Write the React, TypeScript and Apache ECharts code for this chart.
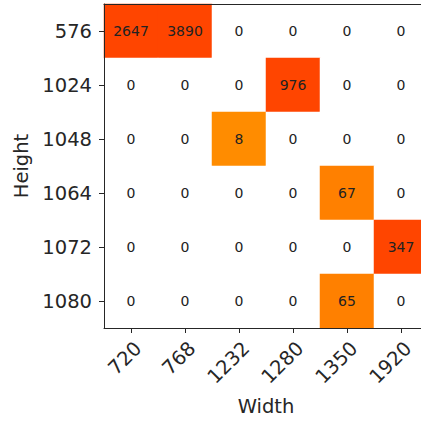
import React, { useEffect, useRef } from "react";
import * as echarts from "echarts";

const widths = ["720", "768", "1232", "1280", "1350", "1920"];
const heights = ["576", "1024", "1048", "1064", "1072", "1080"];
const row576 = [2647, 3890, 0, 0, 0, 0];
const row1024 = [0, 0, 0, 976, 0, 0];
const row1048 = [0, 0, 8, 0, 0, 0];
const row1064 = [0, 0, 0, 0, 67, 0];
const row1072 = [0, 0, 0, 0, 0, 347];
const row1080 = [0, 0, 0, 0, 65, 0];
const rows = [row576, row1024, row1048, row1064, row1072, row1080];

export default function App() {
  const ref = useRef<HTMLDivElement>(null);
  useEffect(() => {
    if (!ref.current) return;
    const chart = echarts.init(ref.current, undefined, { renderer: "svg" });
    const data: number[][] = [];
    rows.forEach((r, yi) => r.forEach((v, xi) => data.push([xi, yi, v])));
    const font = "DejaVu Sans";
    const txt = "#262626";
    chart.setOption({
      animation: false,
      backgroundColor: "#ffffff",
      grid: { left: 104, top: 4, width: 324, height: 324, containLabel: false },
      visualMap: {
        show: false,
        type: "piecewise",
        dimension: 2,
        pieces: [
          { lte: 0, color: "#ffffff" },
          { gt: 0, lt: 50, color: "#ff8c00" },
          { gte: 50, lt: 200, color: "#ff8000" },
          { gte: 200, color: "#ff4500" },
        ],
      },
      xAxis: [
        {
          type: "category",
          data: widths,
          z: 10,
          name: "Width",
          nameLocation: "middle",
          nameGap: 68,
          nameTextStyle: { fontFamily: font, fontSize: 19.5, color: txt },
          axisLine: { show: true, lineStyle: { color: txt, width: 1 } },
          axisTick: { show: true, alignWithLabel: true, length: 5, lineStyle: { color: txt } },
          axisLabel: {
            rotate: 45,
            align: "right",
            verticalAlign: "top",
            margin: 10,
            fontFamily: font,
            fontSize: 19.5,
            color: txt,
          },
          splitLine: { show: false },
        },
        {
          type: "category",
          data: widths,
          position: "top",
          z: 10,
          axisLine: { show: true, lineStyle: { color: txt, width: 1 } },
          axisTick: { show: false },
          axisLabel: { show: false },
        },
      ],
      yAxis: {
        type: "category",
        data: heights,
        inverse: true,
        z: 10,
        name: "Height",
        nameLocation: "middle",
        nameGap: 64,
        nameTextStyle: { fontFamily: font, fontSize: 19.5, color: txt },
        axisLine: { show: true, lineStyle: { color: txt, width: 1 } },
        axisTick: { show: true, alignWithLabel: true, length: 5, lineStyle: { color: txt } },
        axisLabel: { margin: 12, fontFamily: font, fontSize: 19.5, color: txt },
        splitLine: { show: false },
      },
      series: [
        {
          type: "heatmap",
          data,
          label: {
            show: true,
            fontFamily: font,
            fontSize: 14,
            color: "#222222",
          },
          itemStyle: { borderWidth: 0 },
          emphasis: { disabled: true },
        },
      ],
    });
    return () => chart.dispose();
  }, []);
  return (
    <div
      ref={ref}
      style={{ position: "fixed", left: 0, top: 0, width: 440, height: 422 }}
    />
  );
}
